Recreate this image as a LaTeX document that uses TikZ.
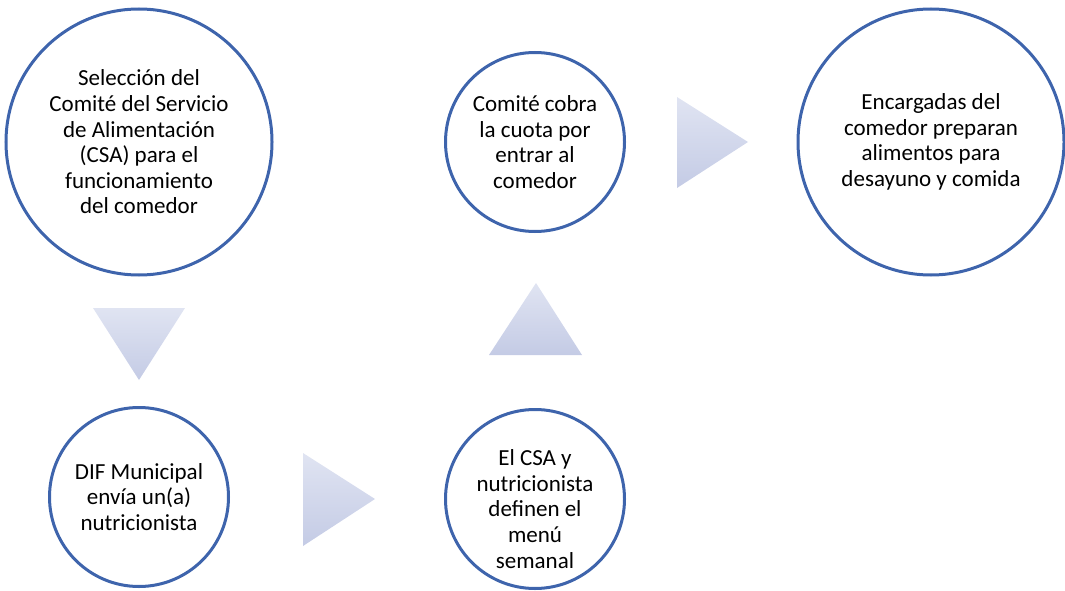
\documentclass[tikz,border=0pt]{standalone}
\usepackage{fontspec}
\setmainfont{Carlito}
\usepackage{tikz}

\definecolor{ringblue}{RGB}{62,100,172}
\definecolor{arrowtop}{RGB}{224,228,242}
\definecolor{arrowbot}{RGB}{196,203,229}

\tikzset{
  steptext/.style={align=center,inner sep=0pt,font=\fontsize{23}{25.6}\selectfont},
  bigstep/.style={steptext,circle,draw=ringblue,line width=3pt,minimum size=266pt},
  smallstep/.style={bigstep,minimum size=179pt},
  pointer/.style={top color=arrowtop,bottom color=arrowbot,draw=none}
}

\begin{document}
\begin{tikzpicture}[x=1pt,y=-1pt]

\useasboundingbox (0,0) rectangle (1065,591);

\node[bigstep] (c1) at (139,142) {Selección del\\Comité del Servicio\\de Alimentación\\(CSA) para el\\funcionamiento\\del comedor};
\node[smallstep] (c4) at (139,497) {DIF Municipal\\envía un(a)\\nutricionista};
\node[smallstep] (c5) at (535,499) {};
\node[steptext] (c5text) at ([yshift=-10pt]c5) {El CSA y\\nutricionista\\definen el\\menú\\semanal};
\node[smallstep] (c2) at (535,142) {Comité cobra\\la cuota por\\entrar al\\comedor};
\node[bigstep] (c3) at (931,142) {Encargadas del\\comedor preparan\\alimentos para\\desayuno y comida};

\shade[pointer] (93,308) -- (185,308) -- (139,380) -- cycle;
\shade[pointer] (303,453) -- (375,499) -- (303,546) -- cycle;
\shade[pointer] (489,355) -- (536,283) -- (582,355) -- cycle;
\shade[pointer] (677,97) -- (748,142) -- (677,188) -- cycle;

\end{tikzpicture}
\end{document}
